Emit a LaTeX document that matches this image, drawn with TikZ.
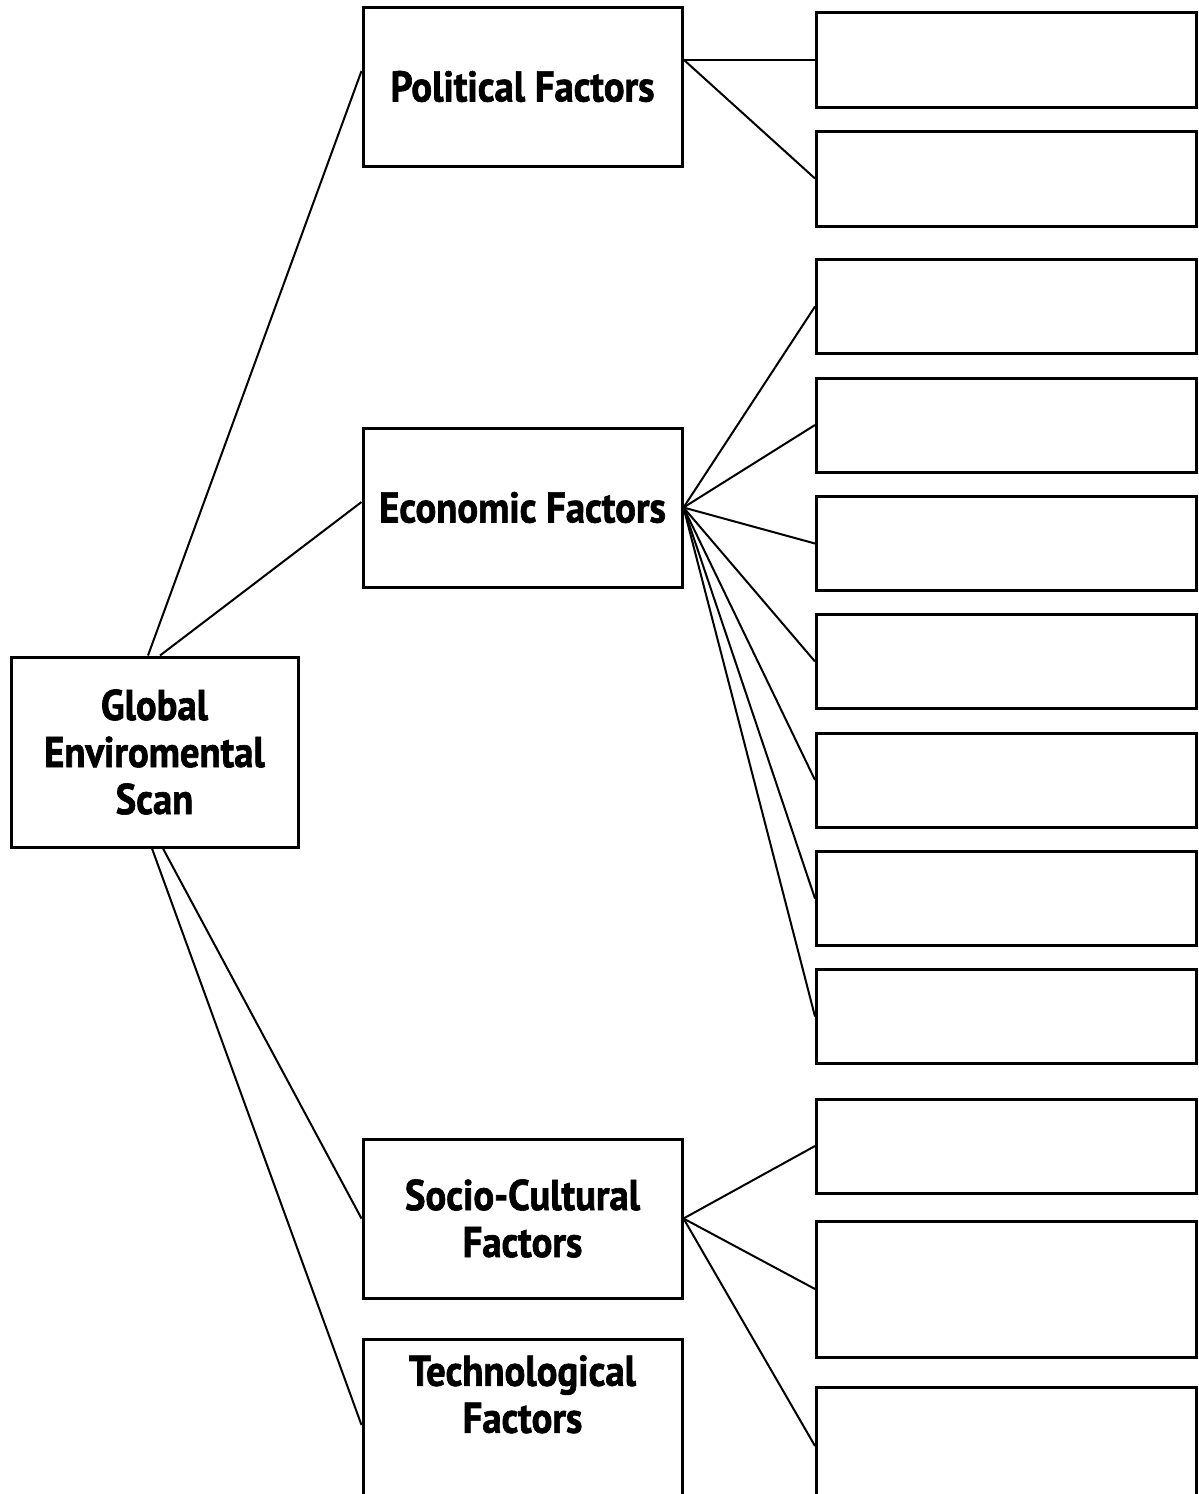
\documentclass[tikz,border=0pt]{standalone}
\usepackage{fontspec}
\newfontfamily\factorfont[FakeStretch=0.9, BoldFeatures={FakeBold=1.5}]{PT Sans}
\usepackage{tikz}
\usetikzlibrary{calc,positioning}

\begin{document}
\begin{tikzpicture}[
  x=1pt,
  y=-1pt,
  line width=2pt,
  factor/.style={
    draw,
    line width=3pt,
    inner sep=0pt,
    minimum width=#1,
    minimum height=159,
    align=center,
    font=\factorfont\bfseries\fontsize{43}{47}\selectfont
    },
  factor/.default=319,
  blank/.style={
    draw,
    line width=3pt,
    inner sep=0pt,
    minimum width=380,
    minimum height=#1
    },
  blank/.default=94
]
\useasboundingbox (0,0) rectangle (1199,1494);

\node[factor=287, minimum height=190]
  (scan) at (154.5,752) {Global\\Enviromental\\Scan};
\node[factor] (pol) at (522.5,86.5) {Political Factors};
\node[factor] (eco) at (522.5,507.5) {Economic Factors};
\node[factor] (soc) at (522.5,1218.5) {Socio-Cultural\\Factors};
\node[factor, text depth=49pt] (tec) at (522.5,1418.5) {Technological\\Factors};

\foreach \ypos/\hgt [count=\i from 1] in {59.5/95, 178.5/95, 306.5/94, 425/94,
  543.5/94, 661.5/94, 780/94, 898.5/94, 1016.5/94, 1146/94, 1289/136, 1446/118}
  \node[blank=\hgt] (box\i) at (1006.5,\ypos) {};

\draw ([xshift=-6.5pt]scan.north) -- ([yshift=15.5pt]pol.west);
\draw ([xshift=5.5pt]scan.north) -- ([yshift=5.5pt]eco.west);
\draw ([xshift=8.5pt]scan.south) -- (soc.west);
\draw ([xshift=-2.5pt]scan.south) -- ([yshift=-6.5pt]tec.west);

\coordinate (polfan) at (pol.east |- box1.west);
\draw (polfan) -- (box1.west);
\draw (polfan) -- (box2.west);
\foreach \i in {3,...,9}
  \draw (eco.east) -- (box\i.west);
\foreach \i in {10,11,12}
  \draw (soc.east) -- (box\i.west);

\end{tikzpicture}
\end{document}
